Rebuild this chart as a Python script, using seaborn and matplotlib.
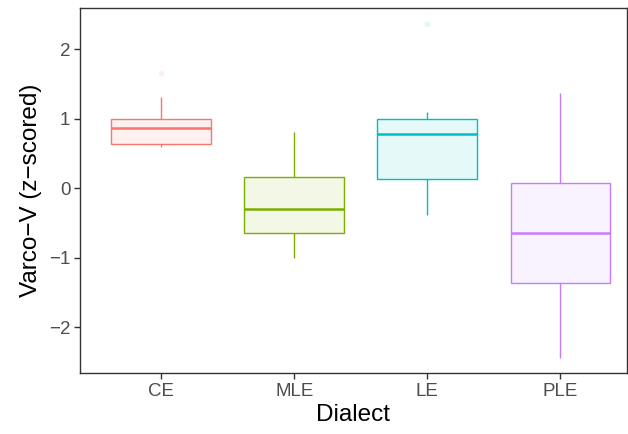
import numpy as np
import pandas as pd
import matplotlib
matplotlib.use("Agg")
import matplotlib.pyplot as plt
import seaborn as sns
from matplotlib.colors import to_rgb

# Values (five-number summaries per dialect)
dialects = ["CE", "MLE", "LE", "PLE"]
lower_whisker = [0.585, -1.01, -0.39, -2.45]
q1 = [0.63, -0.64, 0.125, -1.36]
median = [0.86, -0.30, 0.78, -0.65]
q3 = [1.00, 0.16, 0.99, 0.08]
upper_whisker = [1.31, 0.80, 1.10, 1.37]
outliers = [[1.66], [], [2.36], []]
colors = ["#F8766D", "#7CAE00", "#00BFC4", "#C77CFF"]

# Build samples whose quartiles reproduce the summaries (9 points each)
rows = []
for i, d in enumerate(dialects):
    if outliers[i]:
        vals = [lower_whisker[i], q1[i], q1[i], median[i], median[i], median[i],
                q3[i], upper_whisker[i]] + outliers[i]
    else:
        vals = [lower_whisker[i], q1[i], q1[i], median[i], median[i], median[i],
                q3[i], q3[i], upper_whisker[i]]
    for v in vals:
        rows.append({"Dialect": d, "value": v})
df = pd.DataFrame(rows)

sns.set_theme(style="white")
plt.rcParams["font.family"] = ["Liberation Sans", "DejaVu Sans"]

fig = plt.figure(figsize=(6.28, 4.34), dpi=100)
ax = fig.add_axes([80 / 628, 61 / 434, 547 / 628, 365 / 434])

sns.boxplot(data=df, x="Dialect", y="value", hue="Dialect", order=dialects,
            hue_order=dialects, palette=colors, saturation=1, width=0.75,
            showcaps=False, whis=1.5, linewidth=1.0, legend=False, ax=ax,
            flierprops=dict(marker="o", markersize=4, markeredgewidth=0, alpha=0.12))

for c, col in zip(ax.containers, colors):
    r, g, b = to_rgb(col)
    light = (1 - 0.1 * (1 - r), 1 - 0.1 * (1 - g), 1 - 0.1 * (1 - b))
    for box in c.boxes:
        box.set_facecolor(light)
        box.set_edgecolor(col)
        box.set_linewidth(1.0)
    for w in c.whiskers:
        w.set_color(col)
        w.set_linewidth(1.0)
    for m in c.medians:
        m.set_color(col)
        m.set_linewidth(1.8)
    for f in c.fliers:
        f.set_markerfacecolor(col)
        f.set_markeredgecolor(col)
        f.set_alpha(0.12)

ax.set_ylim(-2.66, 2.59)
ax.set_xlim(-0.61, 3.50)
ax.set_yticks([-2, -1, 0, 1, 2])
ax.set_yticklabels(["\u22122", "\u22121", "0", "1", "2"])

for s in ax.spines.values():
    s.set_visible(True)
    s.set_color("#333333")
    s.set_linewidth(1.0)

ax.tick_params(axis="both", which="major", length=4, width=1.0, color="#333333",
               labelsize=13.5, labelcolor="#4D4D4D", pad=3, direction="out",
               bottom=True, left=True)
ax.grid(False)
ax.set_facecolor("white")

ax.set_xlabel("Dialect", fontsize=17.5, color="black", labelpad=3)
ax.set_ylabel("Varco\u2212V (z\u2212scored)", fontsize=17.5, color="black", labelpad=5)

fig.savefig("out.png", dpi=100)
